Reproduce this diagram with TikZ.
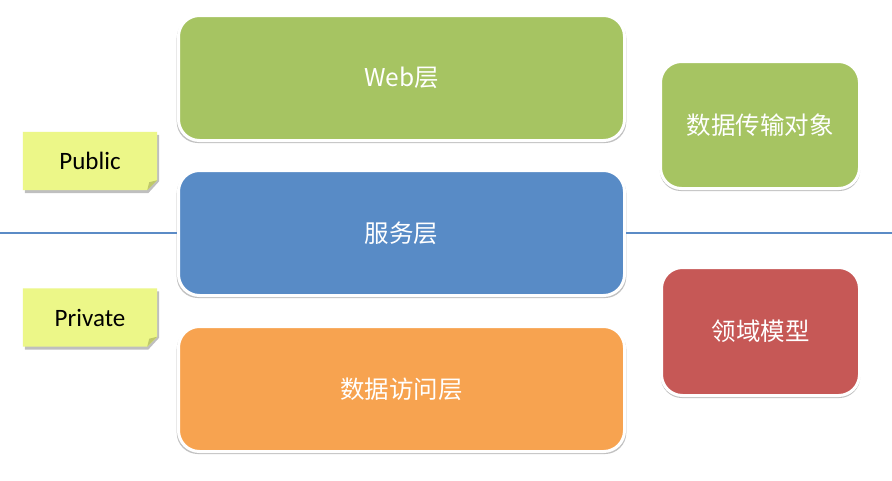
\documentclass[tikz,border=0pt]{standalone}
\usepackage{fontspec}
\setmainfont{Carlito}
\newfontfamily\cjk{Noto Sans CJK SC}
\usetikzlibrary{shadows,backgrounds,calc}
\definecolor{cgreen}{HTML}{A6C462}
\definecolor{cblue}{HTML}{588BC6}
\definecolor{corange}{HTML}{F7A350}
\definecolor{cred}{HTML}{C65856}
\definecolor{cnote}{HTML}{ECF788}
\definecolor{cnotedark}{HTML}{BFC86A}
\definecolor{cline}{HTML}{5B8BC6}
\begin{document}
\begin{tikzpicture}[x=1pt,y=-1pt,
  layer/.style={rectangle, rounded corners=21pt, draw=white, line width=3pt,
    text=white, font=\cjk\fontsize{24.5}{30}\selectfont,
    drop shadow={shadow xshift=0pt, shadow yshift=-2pt, shadow scale=1.008, opacity=0.4, fill=black!60}},
  notetext/.style={rectangle, inner sep=0pt, minimum width=134pt, minimum height=58pt,
    font=\fontsize{25}{30}\selectfont, text=black},
  sepline/.style={draw=cline, line width=2pt}
]
\useasboundingbox (0,0) rectangle (892,480);

% separator line
\coordinate (lineL) at (0,233);
\coordinate (lineR) at (892,233);

% layers
\node[layer, fill=cgreen, minimum width=446pt, minimum height=125pt] (web) at (401.5,78) {Web层};
\node[layer, fill=cblue, minimum width=446pt, minimum height=125pt] (svc) at (401.5,233) {服务层};
\node[layer, fill=corange, minimum width=446pt, minimum height=125pt] (dao) at (401.5,389) {数据访问层};
\node[layer, fill=cgreen, minimum width=199pt, minimum height=127pt] (dto) at (760,125) {数据传输对象};
\node[layer, fill=cred, minimum width=198pt, minimum height=128pt] (dom) at (760.5,331.5) {领域模型};

\draw[sepline] (lineL) -- (svc.west);
\draw[sepline] (svc.east) -- (lineR);

% notes
\node[notetext] (pub) at (90,161) {Public};
\node[notetext] (pri) at (90,317.5) {Private};

\begin{scope}[on background layer]
\fill[white] (0,0) rectangle (892,480);
\foreach \n in {pub,pri}{
  \fill[black, opacity=0.25]
    ($(\n.north west)+(2,3)$) -- ($(\n.north east)+(2,3)$) -- ($(\n.south east)+(2,-9)$)
    -- ($(\n.south east)+(-9,3)$) -- ($(\n.south west)+(2,3)$) -- cycle;
  \fill[cnote]
    (\n.north west) -- (\n.north east) -- ($(\n.south east)+(0,-10)$)
    -- ($(\n.south east)+(-10,0)$) -- (\n.south west) -- cycle;
  \fill[cnotedark]
    ($(\n.south east)+(0,-10)$) -- ($(\n.south east)+(-10,0)$) -- ($(\n.south east)+(-8,-8)$) -- cycle;
}
\end{scope}
\end{tikzpicture}
\end{document}
